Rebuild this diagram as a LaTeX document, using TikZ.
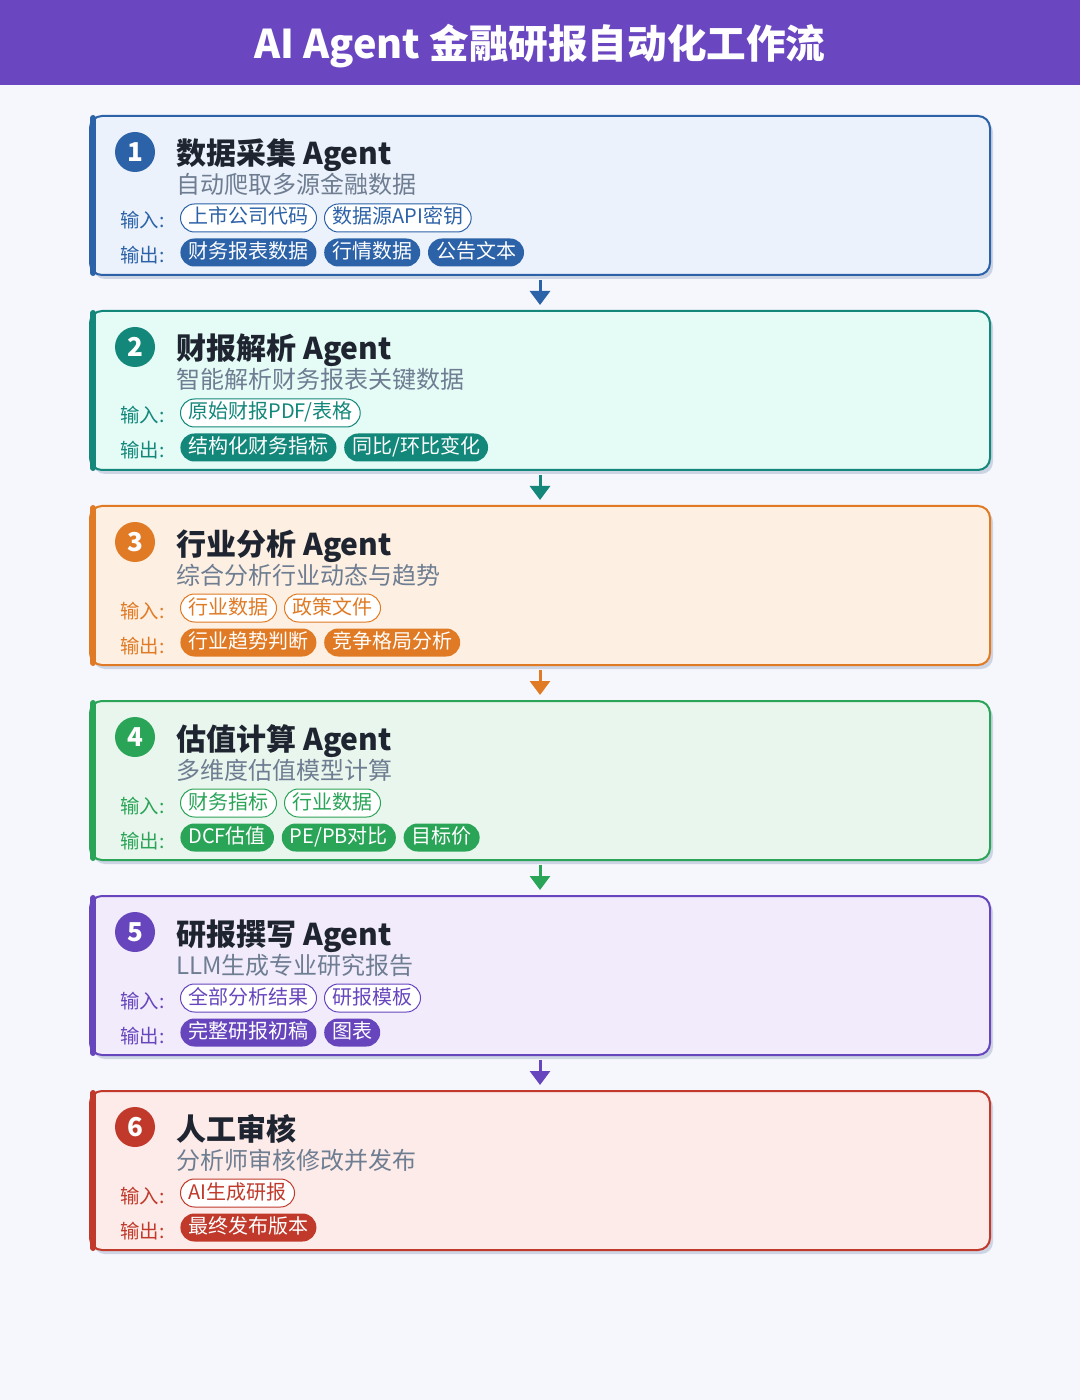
\documentclass[tikz,border=0pt]{standalone}
\usepackage{fontspec}
\setmainfont{Noto Sans CJK SC}
\usetikzlibrary{positioning,arrows.meta,shadows}

\definecolor{bgc}{HTML}{F6F7FC}
\definecolor{headc}{HTML}{6A47C1}
\definecolor{titlec}{HTML}{1E2430}
\definecolor{subc}{HTML}{6E7D91}
\definecolor{shadowc}{HTML}{CDD4E4}
\definecolor{bluec}{HTML}{2C62A8}
\definecolor{bluebg}{HTML}{EBF2FB}
\definecolor{tealc}{HTML}{12877A}
\definecolor{tealbg}{HTML}{E4FBF6}
\definecolor{orangec}{HTML}{E07A24}
\definecolor{orangebg}{HTML}{FDF0E3}
\definecolor{greenc}{HTML}{2AA457}
\definecolor{greenbg}{HTML}{E9F6ED}
\definecolor{purplec}{HTML}{6746BD}
\definecolor{purplebg}{HTML}{F1EBFC}
\definecolor{redc}{HTML}{C0392B}
\definecolor{redbg}{HTML}{FCEBE8}

\begin{document}
\begin{tikzpicture}[x=0.5pt,y=-0.5pt,
  card/.style={rectangle,rounded corners=6pt,draw=cc,fill=cf,line width=1pt,
    minimum width=450pt,minimum height=79.5pt,
    drop shadow={shadow xshift=1.5pt,shadow yshift=-2pt,fill=shadowc,opacity=1}},
  bar/.style={cc,line width=3pt,line cap=round},
  num/.style={circle,fill=cc,text=white,minimum size=20pt,inner sep=0pt,
    font=\fontsize{13}{13}\selectfont\bfseries},
  ttl/.style={anchor=base west,inner sep=0pt,text=titlec,
    font=\fontsize{15}{15}\selectfont\bfseries},
  sub/.style={anchor=base west,inner sep=0pt,text=subc,
    font=\fontsize{12}{12}\selectfont},
  lbl/.style={anchor=base west,inner sep=0pt,text=cc,
    font=\fontsize{9.7}{9.7}\selectfont},
  pill/.style={rounded corners=7pt,minimum height=14pt,inner xsep=4pt,inner ysep=0pt,
    text height=7.6pt,text depth=1.6pt,font=\fontsize{10}{10}\selectfont},
  pin/.style={pill,fill=white,draw=cc,text=cc,line width=0.5pt},
  pout/.style={pill,fill=cc,text=white},
  flow/.style={-{Triangle[width=10pt,length=7pt]},line width=1.5pt,
    shorten <=2pt,shorten >=2.5pt}]
  \useasboundingbox (0,0) rectangle (1080,1400);
  \fill[bgc] (0,0) rectangle (1080,1400);
  % header
  \fill[headc] (0,0) rectangle (1080,85);
  \node[text=white,font=\fontsize{19.8}{19.8}\selectfont\bfseries] (head) at (540,46)
    {AI Agent 金融研报自动化工作流};
  % 1 data collection
  \begin{scope}
    \colorlet{cc}{bluec}\colorlet{cf}{bluebg}
    \node[card] (c1) at (540,195.5) {};
    \draw[bar] (93,118) -- (93,273);
    \node[num] (n1) at (135,152) {1};
    \node[ttl] (t1) at (176,165) {数据采集 Agent};
    \node[sub] (s1) at (176,194) {自动爬取多源金融数据};
    \node[lbl] (i1) at (120,228) {输入:};
    \node[lbl] (o1) at (120,263) {输出:};
    \node[pin,anchor=west] (i1a) at (180,218) {上市公司代码};
    \node[pin,right=3.5pt of i1a] (i1b) {数据源API密钥};
    \node[pout,anchor=west] (o1a) at (180,252.5) {财务报表数据};
    \node[pout,right=3.5pt of o1a] (o1b) {行情数据};
    \node[pout,right=3.5pt of o1b] (o1c) {公告文本};
  \end{scope}
  % 2 report parsing
  \begin{scope}
    \colorlet{cc}{tealc}\colorlet{cf}{tealbg}
    \node[card] (c2) at (540,390.5) {};
    \draw[bar] (93,313) -- (93,468);
    \node[num] (n2) at (135,347) {2};
    \node[ttl] (t2) at (176,360) {财报解析 Agent};
    \node[sub] (s2) at (176,389) {智能解析财务报表关键数据};
    \node[lbl] (i2) at (120,423) {输入:};
    \node[lbl] (o2) at (120,458) {输出:};
    \node[pin,anchor=west] (i2a) at (180,413) {原始财报PDF/表格};
    \node[pout,anchor=west] (o2a) at (180,447.5) {结构化财务指标};
    \node[pout,right=3.5pt of o2a] (o2b) {同比/环比变化};
  \end{scope}
  % 3 industry analysis
  \begin{scope}
    \colorlet{cc}{orangec}\colorlet{cf}{orangebg}
    \node[card] (c3) at (540,585.5) {};
    \draw[bar] (93,508) -- (93,663);
    \node[num] (n3) at (135,542) {3};
    \node[ttl] (t3) at (176,555) {行业分析 Agent};
    \node[sub] (s3) at (176,584) {综合分析行业动态与趋势};
    \node[lbl] (i3) at (120,618) {输入:};
    \node[lbl] (o3) at (120,653) {输出:};
    \node[pin,anchor=west] (i3a) at (180,608) {行业数据};
    \node[pin,right=3.5pt of i3a] (i3b) {政策文件};
    \node[pout,anchor=west] (o3a) at (180,642.5) {行业趋势判断};
    \node[pout,right=3.5pt of o3a] (o3b) {竞争格局分析};
  \end{scope}
  % 4 valuation
  \begin{scope}
    \colorlet{cc}{greenc}\colorlet{cf}{greenbg}
    \node[card] (c4) at (540,780.5) {};
    \draw[bar] (93,703) -- (93,858);
    \node[num] (n4) at (135,737) {4};
    \node[ttl] (t4) at (176,750) {估值计算 Agent};
    \node[sub] (s4) at (176,779) {多维度估值模型计算};
    \node[lbl] (i4) at (120,813) {输入:};
    \node[lbl] (o4) at (120,848) {输出:};
    \node[pin,anchor=west] (i4a) at (180,803) {财务指标};
    \node[pin,right=3.5pt of i4a] (i4b) {行业数据};
    \node[pout,anchor=west] (o4a) at (180,837.5) {DCF估值};
    \node[pout,right=3.5pt of o4a] (o4b) {PE/PB对比};
    \node[pout,right=3.5pt of o4b] (o4c) {目标价};
  \end{scope}
  % 5 report writing
  \begin{scope}
    \colorlet{cc}{purplec}\colorlet{cf}{purplebg}
    \node[card] (c5) at (540,975.5) {};
    \draw[bar] (93,898) -- (93,1053);
    \node[num] (n5) at (135,932) {5};
    \node[ttl] (t5) at (176,945) {研报撰写 Agent};
    \node[sub] (s5) at (176,974) {LLM生成专业研究报告};
    \node[lbl] (i5) at (120,1008) {输入:};
    \node[lbl] (o5) at (120,1043) {输出:};
    \node[pin,anchor=west] (i5a) at (180,998) {全部分析结果};
    \node[pin,right=3.5pt of i5a] (i5b) {研报模板};
    \node[pout,anchor=west] (o5a) at (180,1032.5) {完整研报初稿};
    \node[pout,right=3.5pt of o5a] (o5b) {图表};
  \end{scope}
  % 6 human review
  \begin{scope}
    \colorlet{cc}{redc}\colorlet{cf}{redbg}
    \node[card] (c6) at (540,1170.5) {};
    \draw[bar] (93,1093) -- (93,1248);
    \node[num] (n6) at (135,1127) {6};
    \node[ttl] (t6) at (176,1140) {人工审核};
    \node[sub] (s6) at (176,1169) {分析师审核修改并发布};
    \node[lbl] (i6) at (120,1203) {输入:};
    \node[lbl] (o6) at (120,1238) {输出:};
    \node[pin,anchor=west] (i6a) at (180,1193) {AI生成研报};
    \node[pout,anchor=west] (o6a) at (180,1227.5) {最终发布版本};
  \end{scope}
  % flow arrows
  \draw[flow,bluec] (c1.south) -- (c2.north);
  \draw[flow,tealc] (c2.south) -- (c3.north);
  \draw[flow,orangec] (c3.south) -- (c4.north);
  \draw[flow,greenc] (c4.south) -- (c5.north);
  \draw[flow,purplec] (c5.south) -- (c6.north);
\end{tikzpicture}
\end{document}
